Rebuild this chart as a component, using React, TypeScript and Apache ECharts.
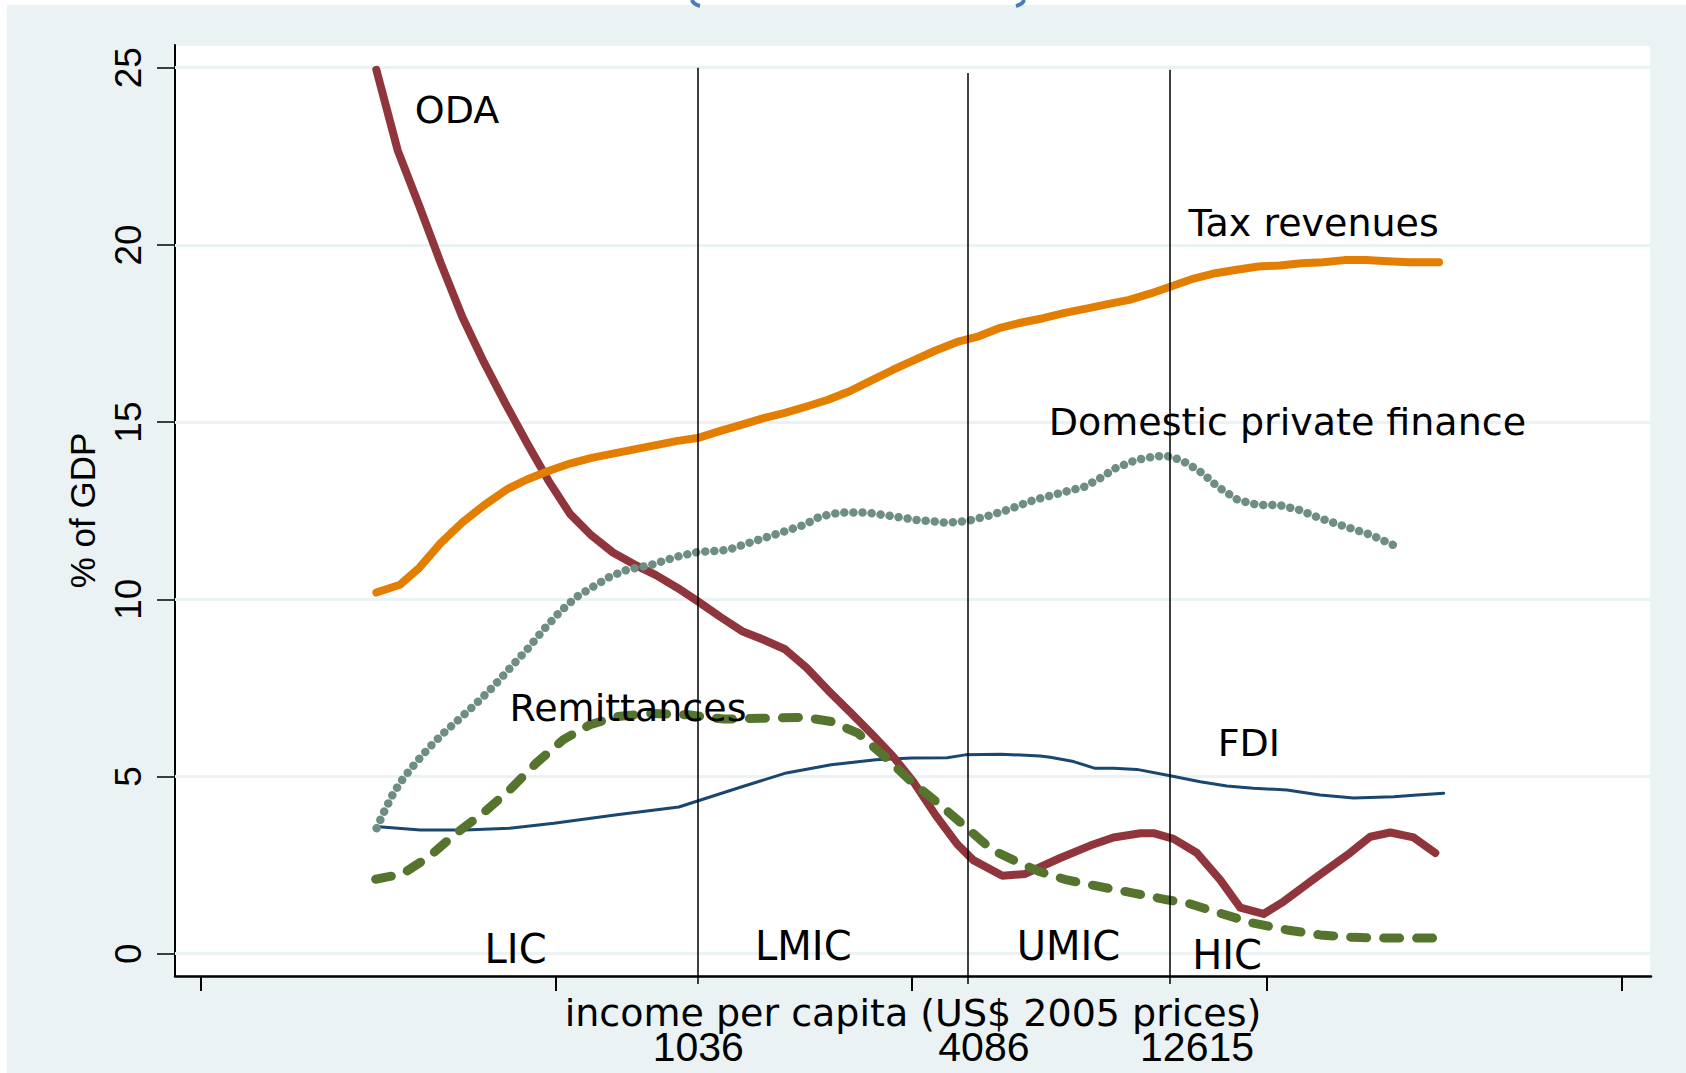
import React, { useEffect, useRef } from 'react';
import * as echarts from 'echarts';

// ---- axes ----
const X_MIN = -1.83;
const X_MAX = 102.05;
const Y_MIN = -0.63;
const Y_MAX = 25.64;
const yTicks = [0, 5, 10, 15, 20, 25];
const xTicks = [0, 25, 50, 75, 100];
const xTitle = 'income per capita (US$ 2005 prices)';
const yTitle = '% of GDP';

// income-group thresholds
const thresholdX = [34.97, 53.97, 68.2];
const thresholdTop = [25, 24.85, 24.94];
const thresholdLabelX = [35, 55.1, 70.1];
const thresholdLabels = ['1036', '4086', '12615'];

// ---- series ----
const odaPoints = [
  [12.34, 24.94], [13.85, 22.66], [15.37, 21.09], [16.88, 19.48], [18.4, 17.96], [19.91, 16.69],
  [21.42, 15.53], [22.94, 14.41], [24.45, 13.35], [25.97, 12.41], [27.48, 11.8], [28.99, 11.32],
  [30.51, 10.98], [32.02, 10.68], [33.54, 10.32], [35.05, 9.92], [36.56, 9.5], [38.08, 9.1],
  [39.59, 8.86], [41.1, 8.59], [42.62, 8.07], [44.13, 7.43], [45.65, 6.83], [47.16, 6.22],
  [48.68, 5.58], [50.19, 4.82], [51.7, 3.91], [53.22, 3.09], [54.35, 2.64], [56.4, 2.2],
  [58.0, 2.25], [60.47, 2.7], [62.58, 3.05], [64.22, 3.28], [66.1, 3.4], [67.04, 3.4],
  [68.45, 3.24], [70.1, 2.84], [71.73, 2.08], [73.14, 1.3], [74.78, 1.12], [76.19, 1.47],
  [78.54, 2.17], [80.89, 2.85], [82.3, 3.3], [83.7, 3.42], [85.34, 3.28], [86.87, 2.84],
];

const taxPoints = [
  [12.34, 10.19], [14.0, 10.41], [15.37, 10.89], [16.88, 11.59], [18.4, 12.17], [19.91, 12.65],
  [21.57, 13.11], [22.94, 13.38], [24.45, 13.62], [25.97, 13.83], [27.48, 13.99], [28.99, 14.11],
  [30.51, 14.23], [32.02, 14.35], [33.54, 14.47], [35.05, 14.56], [36.56, 14.75], [38.08, 14.93],
  [39.59, 15.11], [41.1, 15.26], [42.62, 15.44], [44.13, 15.63], [45.65, 15.87], [47.16, 16.17],
  [48.68, 16.47], [50.19, 16.75], [51.7, 17.02], [53.22, 17.26], [54.73, 17.42], [56.25, 17.66],
  [57.76, 17.81], [59.27, 17.93], [60.79, 18.08], [62.3, 18.2], [63.82, 18.33], [65.33, 18.45],
  [66.84, 18.63], [68.36, 18.84], [69.87, 19.05], [71.39, 19.2], [72.9, 19.3], [74.41, 19.39],
  [75.93, 19.42], [77.44, 19.48], [78.96, 19.51], [80.47, 19.57], [81.98, 19.57], [83.5, 19.54],
  [85.01, 19.51], [87.13, 19.51],
];

const domesticPoints = [
  [12.36, 3.54], [12.83, 3.96], [13.54, 4.53], [14.24, 4.95], [15.18, 5.42], [16.12, 5.84],
  [17.06, 6.22], [18.23, 6.64], [19.4, 7.07], [20.58, 7.54], [21.75, 8.06], [22.92, 8.57],
  [24.1, 9.14], [25.27, 9.65], [26.44, 10.07], [27.62, 10.36], [28.79, 10.64], [29.96, 10.83],
  [31.67, 10.97], [33.47, 11.2], [34.91, 11.33], [37.06, 11.39], [38.86, 11.63], [40.66, 11.86],
  [42.45, 12.1], [43.53, 12.33], [44.97, 12.45], [46.76, 12.45], [48.55, 12.35], [50.36, 12.24],
  [52.51, 12.16], [53.94, 12.21], [55.38, 12.35], [56.82, 12.53], [58.61, 12.8], [60.41, 12.99],
  [62.21, 13.18], [63.29, 13.42], [64.37, 13.7], [65.8, 13.93], [67.24, 14.04], [68.31, 14.03],
  [69.39, 13.84], [70.47, 13.56], [71.54, 13.18], [72.98, 12.8], [74.42, 12.66], [75.86, 12.66],
  [77.3, 12.52], [78.73, 12.29], [80.53, 12.05], [82.32, 11.82], [84.13, 11.49],
];

const remittancePoints = [
  [12.29, 2.1], [14.18, 2.25], [16.06, 2.74], [17.96, 3.4], [19.84, 3.96], [21.72, 4.62],
  [23.6, 5.38], [25.5, 6.04], [27.38, 6.46], [29.27, 6.69], [31.78, 6.78], [34.29, 6.74],
  [36.81, 6.62], [39.32, 6.64], [42.47, 6.67], [44.35, 6.55], [46.24, 6.22], [48.12, 5.56],
  [50.01, 4.85], [51.89, 4.24], [53.78, 3.59], [55.67, 2.93], [57.65, 2.55], [59.06, 2.31],
  [60.94, 2.08], [63.28, 1.89], [65.63, 1.71], [67.98, 1.52], [69.39, 1.43], [71.73, 1.14],
  [74.07, 0.86], [76.43, 0.67], [78.77, 0.53], [81.12, 0.46], [83.47, 0.44], [86.75, 0.44],
];

const fdiPoints = [
  [12.29, 3.59], [15.44, 3.49], [18.58, 3.49], [21.72, 3.54], [24.84, 3.68], [29.27, 3.92],
  [33.63, 4.14], [38.07, 4.71], [41.2, 5.1], [44.35, 5.33], [47.49, 5.47], [50.01, 5.52],
  [52.52, 5.53], [53.78, 5.61], [56.29, 5.63], [59.06, 5.58], [59.77, 5.54], [61.41, 5.42],
  [62.93, 5.23], [64.22, 5.23], [65.87, 5.2], [68.21, 5.02], [70.33, 4.85], [72.2, 4.73],
  [74.07, 4.67], [76.43, 4.62], [78.77, 4.48], [81.12, 4.39], [83.94, 4.43], [85.58, 4.48],
  [87.46, 4.53],
];

// ---- annotation texts (anchored in data units) ----
const curveLabels = ['ODA', 'Tax revenues', 'Domestic private finance', 'Remittances', 'FDI'];
const curveLabelAt = [[18.02, 23.82], [78.31, 20.63], [76.46, 14.99], [30.05, 6.93], [73.75, 5.95]];
const groupLabels = ['LIC', 'LMIC', 'UMIC', 'HIC'];
const groupLabelAt = [[22.14, 0.12], [42.39, 0.21], [61.05, 0.21], [72.22, -0.03]];

const BG = '#eaf2f3';
const SANS = 'DejaVu Sans';
const ARIAL = 'Liberation Sans';

function buildOption() {
  const lineBase = (name: string, data: number[][], color: string, width: number, type: any, z = 2) => ({
    name,
    type: 'line',
    data,
    showSymbol: false,
    symbol: 'none',
    silent: true,
    z,
    lineStyle: { color, width, type, cap: 'round', join: 'round' },
  });

  const textLabel = (size: number) => ({
    show: true,
    position: 'inside',
    formatter: '{b}',
    fontFamily: SANS,
    fontSize: size,
    color: '#000000',
    opacity: 1,
    textBorderWidth: 0,
    textBorderColor: 'transparent',
    align: 'center',
    verticalAlign: 'middle',
  });

  return {
    animation: false,
    backgroundColor: BG,
    graphic: [
      { type: 'rect', shape: { x: 0, y: 0, width: 1686, height: 5 }, style: { fill: '#fff' }, silent: true },
      { type: 'rect', shape: { x: 0, y: 0, width: 7, height: 1073 }, style: { fill: '#fff' }, silent: true },
      {
        type: 'bezierCurve',
        shape: { x1: 692, y1: 0, cpx1: 693, cpy1: 4, x2: 700, y2: 6 },
        style: { stroke: '#4a7ebb', lineWidth: 4, fill: null },
        silent: true,
      },
      {
        type: 'bezierCurve',
        shape: { x1: 1024, y1: 0, cpx1: 1023, cpy1: 4, x2: 1016, y2: 6 },
        style: { stroke: '#4a7ebb', lineWidth: 4, fill: null },
        silent: true,
      },
    ],
    grid: {
      left: 175,
      top: 45,
      width: 1476,
      height: 931,
      show: true,
      backgroundColor: '#ffffff',
      borderColor: BG,
      borderWidth: 2,
    },
    xAxis: [
      {
        type: 'value',
        min: X_MIN,
        max: X_MAX,
        position: 'bottom',
        axisLine: { show: true, onZero: false, lineStyle: { color: '#000', width: 2.5 } },
        axisTick: { show: true, customValues: xTicks, length: 15, lineStyle: { color: '#000', width: 2 } },
        axisLabel: { show: false },
        splitLine: { show: false },
        name: xTitle,
        nameLocation: 'middle',
        nameGap: 23,
        nameTextStyle: { fontFamily: SANS, fontSize: 38, lineHeight: 28, color: '#000' },
      },
      {
        type: 'value',
        min: X_MIN,
        max: X_MAX,
        position: 'bottom',
        axisLine: { show: false, onZero: false },
        axisTick: { show: true, customValues: thresholdX, length: 8, lineStyle: { color: '#000', width: 1.5 } },
        axisLabel: {
          show: true,
          customValues: thresholdLabelX,
          margin: 56,
          fontFamily: ARIAL,
          fontSize: 41,
          lineHeight: 30,
          color: '#000',
          formatter: (v: number) => {
            let best = 0;
            thresholdLabelX.forEach((x, i) => {
              if (Math.abs(x - v) < Math.abs(thresholdLabelX[best] - v)) best = i;
            });
            return thresholdLabels[best];
          },
        },
        splitLine: { show: false },
      },
    ],
    yAxis: {
      type: 'value',
      min: Y_MIN,
      max: Y_MAX,
      position: 'left',
      axisLine: { show: true, onZero: false, lineStyle: { color: '#000', width: 2 } },
      axisTick: { show: true, customValues: yTicks, length: 18, lineStyle: { color: '#000', width: 1.5 } },
      axisLabel: {
        show: true,
        customValues: yTicks,
        rotate: 90,
        margin: 28,
        fontFamily: ARIAL,
        fontSize: 37,
        color: '#000',
      },
      splitLine: { show: false },
      name: yTitle,
      nameLocation: 'middle',
      nameGap: 75,
      nameTextStyle: { fontFamily: ARIAL, fontSize: 35, color: '#000' },
    },
    series: [
      {
        name: 'gridlines',
        type: 'line',
        data: [],
        silent: true,
        markLine: {
          z: 1,
          silent: true,
          symbol: 'none',
          label: { show: false },
          lineStyle: { color: BG, width: 3, type: 'solid' },
          data: yTicks.map((v) => ({ yAxis: v })),
        },
      },
      lineBase('FDI', fdiPoints, '#1a476f', 3, 'solid', 2),
      lineBase('ODA', odaPoints, '#90353b', 8, 'solid', 2),
      lineBase('Tax revenues', taxPoints, '#e37e00', 8, 'solid', 2),
      lineBase('Domestic private finance', domesticPoints, '#6e8e84', 8.5, [0.1, 9.0], 2),
      lineBase('Remittances', remittancePoints, '#55752f', 9, [16, 17], 2),
      {
        name: 'thresholds',
        type: 'line',
        data: [],
        silent: true,
        markLine: {
          z: 5,
          silent: true,
          symbol: 'none',
          label: { show: false },
          lineStyle: { color: '#000', width: 1.5, type: 'solid' },
          data: thresholdX.map((x, i) => [{ coord: [x, thresholdTop[i]] }, { coord: [x, Y_MIN] }]),
        },
      },
      {
        name: 'curve labels',
        type: 'scatter',
        silent: true,
        z: 10,
        symbolSize: 1,
        itemStyle: { color: 'rgba(0,0,0,0)' },
        data: curveLabels.map((t, i) => ({ name: t, value: curveLabelAt[i] })),
        label: textLabel(38),
      },
      {
        name: 'group labels',
        type: 'scatter',
        silent: true,
        z: 10,
        symbolSize: 1,
        itemStyle: { color: 'rgba(0,0,0,0)' },
        data: groupLabels.map((t, i) => ({ name: t, value: groupLabelAt[i] })),
        label: textLabel(40),
      },
    ],
  };
}

export default function App() {
  const ref = useRef<HTMLDivElement>(null);
  useEffect(() => {
    document.body.style.margin = '0';
    document.body.style.overflow = 'hidden';
    if (!ref.current) return;
    const chart = echarts.init(ref.current, null, { renderer: 'svg' });
    chart.setOption(buildOption() as any);
    return () => chart.dispose();
  }, []);
  return <div ref={ref} style={{ width: 1686, height: 1073 }} />;
}
